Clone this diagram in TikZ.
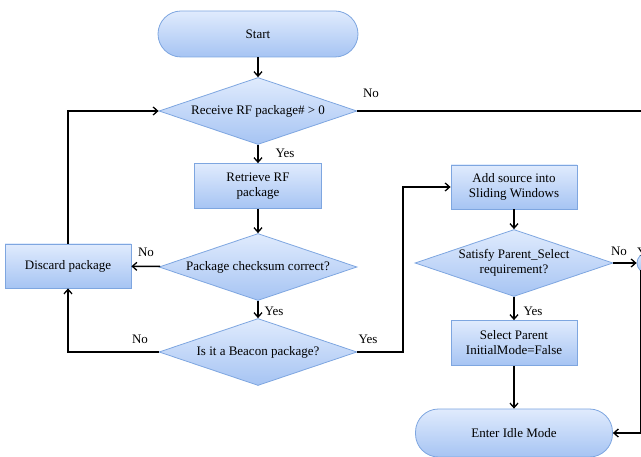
\documentclass[tikz,border=0pt]{standalone}
\usepackage{fontspec}
\setmainfont{Liberation Serif}
\usetikzlibrary{shapes.geometric,arrows.meta}
\definecolor{boxtop}{HTML}{E0EBFD}
\definecolor{boxbot}{HTML}{A6C4F3}
\definecolor{boxline}{HTML}{7EA6E0}
\begin{document}
\begin{tikzpicture}[x=1pt,y=-1pt,
  every node/.style={font=\fontsize{13}{15}\selectfont},
  blue fill/.style={top color=boxtop,bottom color=boxbot,draw=boxline,line width=0.8pt},
  procbox/.style={blue fill,rectangle,minimum width=127pt,minimum height=45pt,inner sep=0pt,align=center},
  termbox/.style={blue fill,rectangle,rounded corners=23pt,minimum height=46pt,inner sep=0pt},
  decision/.style={blue fill,diamond,minimum width=198pt,minimum height=67pt,inner sep=0pt,aspect=2.95,align=center},
  flow/.style={line width=1.5pt,-{Straight Barb[length=4.5pt,width=8pt,line width=1.3pt]}},
  plainflow/.style={line width=1.5pt},
  lbl/.style={inner sep=0pt}
]
\useasboundingbox (0,0) rectangle (641,457);

% left column
\node[termbox,minimum width=200pt] (start) at (258,34) {Start};
\node[decision] (recv) at (258,111) {Receive RF package\# > 0};
\node[procbox] (retr) at (258,186) {Retrieve RF\\package};
\node[decision] (csum) at (258,267) {Package checksum correct?};
\node[decision] (beacon) at (258,352) {Is it a Beacon package?};
\node[procbox,minimum width=126pt,minimum height=44pt] (discard) at (68,266) {Discard package};

% right column
\node[procbox,minimum width=126pt,minimum height=44pt] (add) at (514,187) {Add source into\\Sliding Windows};
\node[decision] (sat) at (514,263) {Satisfy Parent\_Select\\requirement?};
\node[procbox,minimum width=126pt,minimum height=45pt] (sel) at (514,343) {Select Parent\\InitialMode=False};
\node[termbox,minimum width=197pt,minimum height=48pt] (idle) at (514,433) {Enter Idle Mode};

% continuation beyond the right border
\begin{scope}
  \clip (0,0) rectangle (641,457);
  \node[blue fill,circle,minimum size=20pt,inner sep=0pt] (next) at (647,263) {};
  \node[lbl,anchor=west] (nextyes) at (637,252) {Yes};
  \draw[plainflow] (641,111) coordinate (topexit) -- (recv.east);
  \draw[flow] (640.5,270) coordinate (rdown) |- (idle.east);
\end{scope}

% connectors
\draw[flow] (start) -- (recv);
\draw[flow] (recv) -- (retr);
\draw[flow] (retr) -- (csum);
\draw[flow] (csum) -- (discard);
\draw[flow] (csum) -- (beacon);
\draw[flow] (beacon.west) -| (discard.south);
\draw[flow] (discard.north) |- (recv.west);
\draw[flow] (beacon.east) -- (403,352) |- (add.west);
\draw[flow] (add) -- (sat);
\draw[flow] (sat) -- (sel);
\draw[flow] (sat.east) -- (next.west);
\draw[flow] (sel) -- (idle);

% connector labels
\node[lbl] (l1) at (371,93) {No};
\node[lbl] (l2) at (285,153) {Yes};
\node[lbl] (l3) at (146,252) {No};
\node[lbl] (l4) at (274,311) {Yes};
\node[lbl] (l5) at (140,339) {No};
\node[lbl] (l6) at (368,339) {Yes};
\node[lbl] (l7) at (533,311) {Yes};
\node[lbl] (l8) at (619,251) {No};
\end{tikzpicture}
\end{document}
